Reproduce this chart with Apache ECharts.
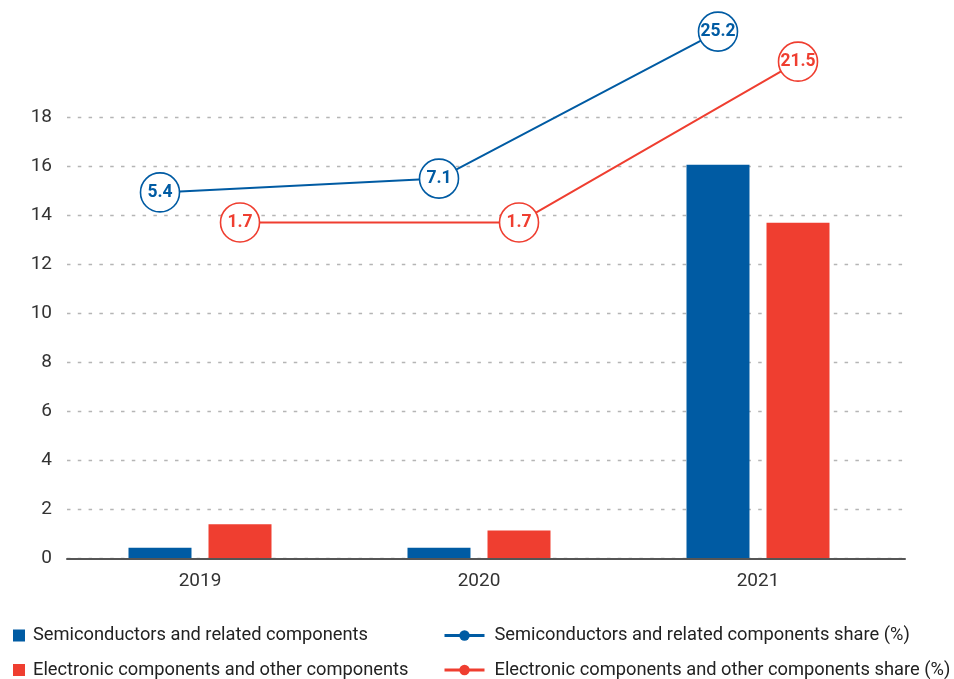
<!DOCTYPE html>
<html>
<head>
<meta charset="utf-8">
<script src="https://cdn.jsdelivr.net/npm/echarts@6/dist/echarts.min.js"></script>
<style>
  html, body { margin: 0; padding: 0; background: #fff; }
  #chart { width: 954px; height: 679px; }
</style>
</head>
<body>
<div id="chart"></div>
<script>
// Categories and values
const years = ['2019', '2020', '2021'];
const semiValues = [0.45, 0.45, 16.08];
const elecValues = [1.41, 1.15, 13.71];
const semiShare = [5.4, 7.1, 25.2];
const elecShare = [1.7, 1.7, 21.5];

const seriesNames = [
  'Semiconductors and related components',
  'Electronic components and other components',
  'Semiconductors and related components share (%)',
  'Electronic components and other components share (%)'
];

const BLUE = '#005BA3';
const RED = '#EF3E30';
const FONT = "'Liberation Sans Narrow', 'Arial Narrow', 'Roboto', sans-serif";

// Layout of the plotting area
const W = 954;
const plotTop = 117.7, plotBottom = 120.3;
const barGridLeft = 60.5, barGridRight = 56.5;
const barWidth = 63, barGapRatio = 0.27;
const catPx = (W - barGridLeft - barGridRight) / years.length;
// Horizontal offset of each bar centre from its category centre, in category units
const barOffset = (barWidth * (1 + barGapRatio)) / 2 / catPx;

const chart = echarts.init(document.getElementById('chart'), null, { renderer: 'canvas' });

const circleLabel = (color) => ({
  show: true,
  position: 'inside',
  color: color,
  fontFamily: FONT,
  fontWeight: 'bold',
  fontSize: 17.5,
  formatter: (p) => p.value[1]
});

// One legend entry per block so each sits in its own row/column
const legendText = (padLeft) => ({
  color: '#222', fontSize: 18.3, fontFamily: FONT, padding: [0, 0, 0, padLeft]
});
const barLegend = (name, top) => ({
  left: 13, top: top, padding: 0, itemWidth: 12, itemHeight: 12, icon: 'rect',
  textStyle: legendText(3), data: [name]
});
const lineLegend = (name, color, top) => ({
  left: 443, top: top, padding: 0, itemWidth: 40, itemHeight: 13,
  textStyle: legendText(5),
  data: [{ name: name, itemStyle: { color: color, borderWidth: 0 }, lineStyle: { color: color, width: 3 } }]
});

chart.setOption({
  animation: false,
  backgroundColor: '#fff',
  textStyle: { fontFamily: FONT },
  grid: [
    { left: 67, right: 49, top: plotTop, bottom: plotBottom },
    { left: barGridLeft, right: barGridRight, top: plotTop, bottom: plotBottom }
  ],
  xAxis: [
    {
      gridIndex: 0, type: 'category', data: years, z: 5,
      axisLine: { lineStyle: { color: '#555', width: 2 } },
      axisTick: { show: false }, axisLabel: { show: false }
    },
    {
      gridIndex: 1, type: 'category', data: years,
      axisLine: { show: false }, axisTick: { show: false },
      axisLabel: { color: '#333', fontSize: 19, fontFamily: FONT, margin: 13 }
    },
    {
      gridIndex: 1, type: 'value', min: -0.5, max: years.length - 0.5, show: false
    }
  ],
  yAxis: [
    {
      gridIndex: 0, type: 'value', min: 0, max: 18, interval: 2,
      axisLine: { show: false }, axisTick: { show: false },
      axisLabel: { color: '#333', fontSize: 19, fontFamily: FONT, margin: 15 },
      splitLine: { lineStyle: { color: '#b5b5b5', width: 1.3, type: [3.5, 7.3] } }
    },
    { gridIndex: 1, type: 'value', min: 0, max: 18, show: false },
    { gridIndex: 1, type: 'value', min: -39.7, max: 14.6, show: false }
  ],
  legend: [
    barLegend(seriesNames[0], 626.5),
    barLegend(seriesNames[1], 661),
    lineLegend(seriesNames[2], BLUE, 626.5),
    lineLegend(seriesNames[3], RED, 661)
  ],
  series: [
    {
      name: seriesNames[0], type: 'bar', xAxisIndex: 1, yAxisIndex: 1,
      barWidth: barWidth, barGap: (barGapRatio * 100) + '%',
      itemStyle: { color: BLUE },
      data: semiValues
    },
    {
      name: seriesNames[1], type: 'bar', xAxisIndex: 1, yAxisIndex: 1,
      barWidth: barWidth, barGap: (barGapRatio * 100) + '%',
      itemStyle: { color: RED },
      data: elecValues
    },
    {
      name: seriesNames[2], type: 'line', xAxisIndex: 2, yAxisIndex: 2,
      clip: false, z: 4,
      symbol: 'circle', symbolSize: 39,
      lineStyle: { color: BLUE, width: 2 },
      itemStyle: { color: '#fff', borderColor: BLUE, borderWidth: 1.6 },
      label: circleLabel(BLUE),
      data: semiShare.map((v, i) => [i - barOffset, v])
    },
    {
      name: seriesNames[3], type: 'line', xAxisIndex: 2, yAxisIndex: 2,
      clip: false, z: 4,
      symbol: 'circle', symbolSize: 39,
      lineStyle: { color: RED, width: 2 },
      itemStyle: { color: '#fff', borderColor: RED, borderWidth: 1.6 },
      label: circleLabel(RED),
      data: elecShare.map((v, i) => [i + barOffset, v])
    }
  ]
});
</script>
</body>
</html>
